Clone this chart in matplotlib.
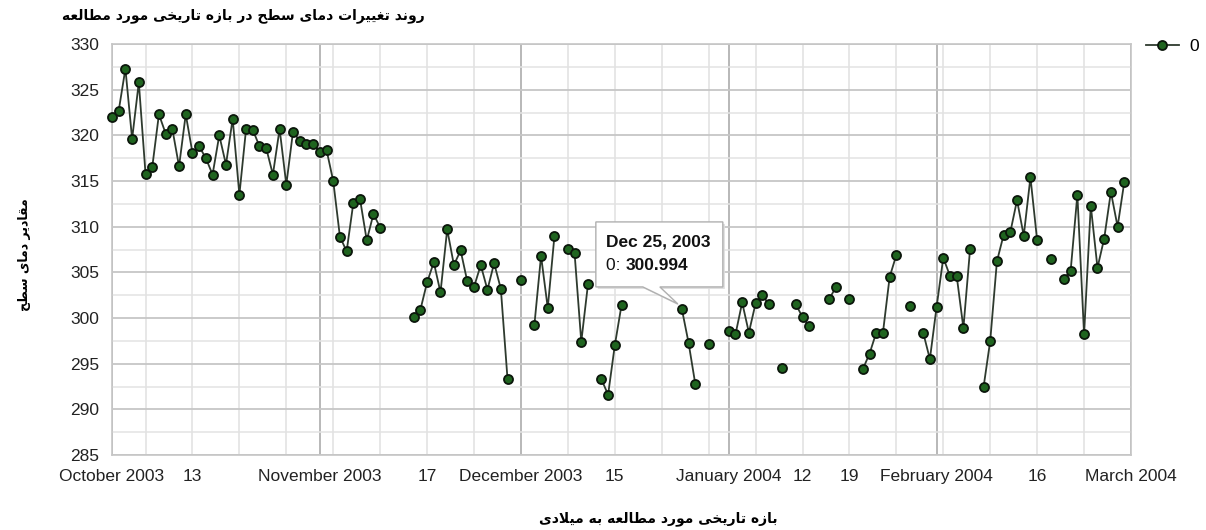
import numpy as np
import pandas as pd
import matplotlib
matplotlib.use('Agg')
import matplotlib.pyplot as plt
from matplotlib.patches import Polygon
from matplotlib.transforms import IdentityTransform

# daily surface temperature from 2003-10-01, None = no observation
start_date = '2003-10-01'
temps = [
    322.0, 322.7, 327.3, 319.6, 325.8, 315.8, 316.5, 322.3, 320.2, 320.7,
    316.6, 322.3, 318.1, 318.8, 317.5, 315.7, 320.0, 316.8, 321.8, 313.5,
    320.7, 320.6, 318.8, 318.6, 315.7, 320.7, 314.6, 320.4, 319.4, 319.0,
    319.0, 318.2, 318.4, 315.0, 308.9, 307.3, 312.6, 313.0, 308.5, 311.4,
    309.9, None, None, None, None, 300.1, 300.9, 303.9, 306.1, 302.8,
    309.7, 305.8, 307.4, 304.0, 303.4, 305.8, 303.1, 306.0, 303.2, 293.3,
    None, 304.2, None, 299.2, 306.8, 301.1, 309.0, None, 307.6, 307.1,
    297.4, 303.7, None, 293.3, 291.6, 297.0, 301.4, None, None, None,
    None, None, None, None, None, 300.994, 297.3, 292.8, None, 297.1,
    None, None, 298.6, 298.2, 301.7, 298.4, 301.6, 302.5, 301.5, None,
    294.5, None, 301.5, 300.1, 299.1, None, None, 302.1, 303.4, None,
    302.1, None, 294.4, 296.1, 298.4, 298.4, 304.5, 306.9, None, 301.3,
    None, 298.4, 295.5, 301.2, 306.6, 304.6, 304.6, 298.9, 307.6, None,
    292.4, 297.5, 306.2, 309.1, 309.4, 312.9, 309.0, 315.4, 308.5, None,
    306.5, None, 304.3, 305.2, 313.5, 298.2, 312.3, 305.5, 308.7, 313.8,
    310.0, 314.9,
]
series_name = '0'

tick_dates = ['2003-10-01', '2003-10-13', '2003-11-01', '2003-11-17',
              '2003-12-01', '2003-12-15', '2004-01-01', '2004-01-12',
              '2004-01-19', '2004-02-01', '2004-02-16', '2004-03-01']
tick_labels = ['October 2003', '13', 'November 2003', '17', 'December 2003',
               '15', 'January 2004', '12', '19', 'February 2004', '16',
               'March 2004']
y_ticks = list(range(285, 331, 5))

note_date = '2003-12-25'
note_value = 300.994

title = 'روند تغییرات دمای سطح در بازه تاریخی مورد مطالعه'
x_title = 'بازه تاریخی مورد مطالعه به میلادی'
y_title = 'مقادیر دمای سطح'

# Arabic presentation forms: isolated, final, initial, medial
FORMS = {
    'ا': ('\uFE8D', '\uFE8E', None, None),
    'ب': ('\uFE8F', '\uFE90', '\uFE91', '\uFE92'),
    'ت': ('\uFE95', '\uFE96', '\uFE97', '\uFE98'),
    'ح': ('\uFEA1', '\uFEA2', '\uFEA3', '\uFEA4'),
    'خ': ('\uFEA5', '\uFEA6', '\uFEA7', '\uFEA8'),
    'د': ('\uFEA9', '\uFEAA', None, None),
    'ر': ('\uFEAD', '\uFEAE', None, None),
    'ز': ('\uFEAF', '\uFEB0', None, None),
    'س': ('\uFEB1', '\uFEB2', '\uFEB3', '\uFEB4'),
    'ط': ('\uFEC1', '\uFEC2', '\uFEC3', '\uFEC4'),
    'ع': ('\uFEC9', '\uFECA', '\uFECB', '\uFECC'),
    'غ': ('\uFECD', '\uFECE', '\uFECF', '\uFED0'),
    'ق': ('\uFED5', '\uFED6', '\uFED7', '\uFED8'),
    'ل': ('\uFEDD', '\uFEDE', '\uFEDF', '\uFEE0'),
    'م': ('\uFEE1', '\uFEE2', '\uFEE3', '\uFEE4'),
    'ن': ('\uFEE5', '\uFEE6', '\uFEE7', '\uFEE8'),
    'ه': ('\uFEE9', '\uFEEA', '\uFEEB', '\uFEEC'),
    'و': ('\uFEED', '\uFEEE', None, None),
    'ی': ('\uFBFC', '\uFBFD', '\uFBFE', '\uFBFF'),
}
RIGHT_ONLY = set('ادذرزژو')


def joins_next(ch):
    return ch in FORMS and ch not in RIGHT_ONLY


def shape(text):
    # join letters and put them in visual (right to left) order
    out = []
    prev = False
    i = 0
    while i < len(text):
        c = text[i]
        nxt = text[i + 1] if i + 1 < len(text) else ''
        if c not in FORMS:
            out.append(c)
            prev = False
            i += 1
            continue
        if c == 'ل' and nxt == 'ا':
            out.append('\uFEFC' if prev else '\uFEFB')
            prev = False
            i += 2
            continue
        iso, fin, ini, med = FORMS[c]
        nj = joins_next(c) and nxt in FORMS
        if prev and nj:
            out.append(med)
        elif prev:
            out.append(fin)
        elif nj:
            out.append(ini)
        else:
            out.append(iso)
        prev = joins_next(c)
        i += 1
    return ''.join(reversed(out))


plt.rcParams['font.family'] = ['Liberation Sans', 'DejaVu Sans']

dates = pd.date_range(start_date, periods=len(temps), freq='D')
values = np.array([np.nan if v is None else v for v in temps])

fig = plt.figure(figsize=(12.06, 5.30), dpi=100)
ax = fig.add_axes([112 / 1206, 75 / 530, 1019 / 1206, 411 / 530])

x_min = pd.Timestamp(tick_dates[0])
x_max = pd.Timestamp(tick_dates[-1])
ax.set_xlim(x_min, x_max)
ax.set_ylim(y_ticks[0], y_ticks[-1])

# horizontal grid: every 5 plus lighter half steps
ax.set_yticks(y_ticks)
ax.set_yticks(np.arange(y_ticks[0] + 2.5, y_ticks[-1], 5), minor=True)
ax.grid(which='major', axis='y', color='#c6c6c6', lw=1.3, zorder=0)
ax.grid(which='minor', axis='y', color='#e3e3e3', lw=1.1, zorder=0)

# vertical grid: Mondays light, month starts darker
for d in pd.date_range(x_min, x_max, freq='W-MON'):
    ax.axvline(d, color='#e0e0e0', lw=1.1, zorder=0)
for d in pd.date_range(x_min, x_max, freq='MS'):
    ax.axvline(d, color='#b8b8b8', lw=1.4, zorder=0)

line, = ax.plot(dates, values, color='#2e3a2e', lw=1.3, marker='o', ms=6.5,
                mfc='#1f641f', mec='#0b160b', mew=1.3, zorder=3,
                clip_on=False)

ax.set_xticks(pd.to_datetime(tick_dates))
ax.set_xticklabels(tick_labels)
ax.tick_params(axis='both', which='both', length=0, labelsize=12.5,
               colors='#222222')
ax.tick_params(axis='x', pad=10)
ax.tick_params(axis='y', pad=9)
for s in ax.spines.values():
    s.set_color('#c6c6c6')
    s.set_linewidth(1.2)

fig.legend([line], [series_name], loc='upper left',
           bbox_to_anchor=(1146 / 1206, 1 - 39 / 530), frameon=False,
           fontsize=12.5, handlelength=1.9, handletextpad=0.6,
           borderaxespad=0, borderpad=0)

# Persian titles
fig.text(425 / 1206, 1 - 16 / 530, shape(title), ha='right', va='center',
         fontsize=10, fontweight='bold', family='DejaVu Sans')
fig.text(658 / 1206, 1 - 519 / 530, shape(x_title), ha='center',
         va='center', fontsize=10, fontweight='bold', family='DejaVu Sans')
fig.text(25 / 1206, 1 - 255 / 530, shape(y_title), ha='center',
         va='center', rotation=90, fontsize=9, fontweight='bold',
         family='DejaVu Sans')

# tooltip callout for the selected day
px, py = ax.transData.transform((matplotlib.dates.date2num(pd.Timestamp(note_date)),
                                 note_value))
box = [(-86, 87), (41, 87), (41, 22), (-22, 22), (-4, 5), (-39, 22), (-86, 22)]
shadow = Polygon([(px + bx + 2, py + by - 2) for bx, by in box],
                 closed=True, transform=IdentityTransform(),
                 facecolor='#dddddd', edgecolor='none', zorder=4)
callout = Polygon([(px + bx, py + by) for bx, by in box], closed=True,
                  transform=IdentityTransform(), facecolor='white',
                  edgecolor='#b0b0b0', lw=1.0, zorder=5)
fig.add_artist(shadow)
fig.add_artist(callout)
fig.text(px - 76, py + 67, pd.Timestamp(note_date).strftime('%b %d, %Y'),
         transform=IdentityTransform(), ha='left', va='center',
         fontsize=12.5, fontweight='bold', color='#111111', zorder=6)
fig.text(px - 76, py + 43, series_name + ': ', transform=IdentityTransform(),
         ha='left', va='center', fontsize=12.5, color='#111111', zorder=6)
fig.text(px - 56, py + 43, f'{note_value:.3f}', transform=IdentityTransform(),
         ha='left', va='center', fontsize=12.5, fontweight='bold',
         color='#111111', zorder=6)

fig.savefig('out.png', dpi=100)
